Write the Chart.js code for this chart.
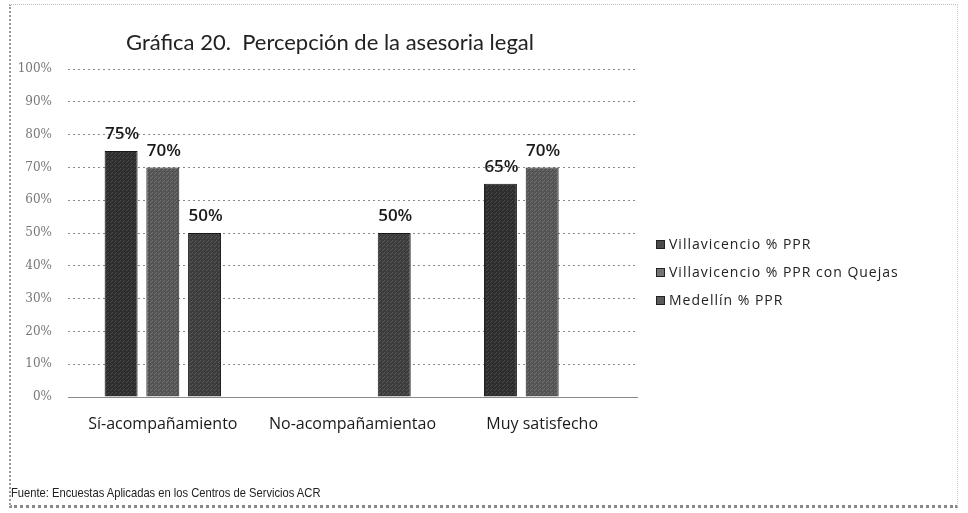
<!DOCTYPE html>
<html>
<head>
<meta charset="utf-8">
<script src="https://cdn.jsdelivr.net/npm/chart.js@4/dist/chart.umd.min.js"></script>
<style>
    body { margin: 0; background: #fff; }
    #wrap { position: relative; width: 968px; height: 513px; overflow: hidden; }
    #frame { position: absolute; left: 9px; top: 4px; width: 946px; height: 500px; border-left: 2px dotted #999; border-top: 1px dotted #bbb; border-right: 1px dotted #ccc; border-bottom: 3px dotted #888; }
    #title { position: absolute; left: 0; width: 660px; top: 28px; text-align: center; font-family: Lato, 'Open Sans', sans-serif; font-size: 22px; color: #222; }
    #source { position: absolute; left: 11px; top: 485px; font-family: 'Liberation Sans', sans-serif; font-size: 13px; color: #222; transform: scaleX(0.86); transform-origin: left top; white-space: nowrap; }
    #legend { position: absolute; left: 656px; top: 234px; font-family: 'Open Sans', sans-serif; font-size: 14px; letter-spacing: 1px; color: #222; }
    .legend-item { height: 28px; display: flex; align-items: flex-start; }
    .legend-box { width: 7px; height: 7px; margin: 6px 4px 0 0; border: 1px solid #222; }
    canvas { position: absolute; left: 0; top: 0; }
</style>
</head>
<body>
<div id="wrap">
    <div id="frame"></div>
    <canvas id="percepcionChart" width="968" height="513"></canvas>
    <div id="title">Gráfica 20.&nbsp; Percepción de la asesoria legal</div>
    <div id="legend"></div>
    <div id="source">Fuente: Encuestas Aplicadas en los Centros de Servicios ACR</div>
</div>
<script>
const categories = ['Sí-acompañamiento', 'No-acompañamientao', 'Muy satisfecho'];
const seriesNames = ['Villavicencio % PPR', 'Villavicencio % PPR con Quejas', 'Medellín % PPR'];
const villavicencioPPR = [75, null, 65];
const villavicencioQuejas = [70, null, 70];
const medellinPPR = [50, 50, null];
const yTicks = [0, 10, 20, 30, 40, 50, 60, 70, 80, 90, 100];

const seriesColors = ['#2e2e2e', '#545454', '#3c3c3c'];
const speckleColors = ['#4a4a4a', '#747474', '#5a5a5a'];

document.addEventListener('DOMContentLoaded', function() {
    buildLegend();
    initializeChart();
});

function buildLegend() {
    const legend = document.getElementById('legend');
    seriesNames.forEach((name, i) => {
        const item = document.createElement('div');
        item.className = 'legend-item';
        item.innerHTML = `<span class="legend-box" style="background:${speckleColors[i]}"></span><span>${name}</span>`;
        legend.appendChild(item);
    });
}

// small halftone tile so the bars look like the scanned print
function makeSpeckle(base, light) {
    const tile = document.createElement('canvas');
    tile.width = 4;
    tile.height = 4;
    const t = tile.getContext('2d');
    t.fillStyle = base;
    t.fillRect(0, 0, 4, 4);
    t.fillStyle = light;
    t.fillRect(0, 0, 1, 1);
    t.fillRect(2, 2, 1, 1);
    t.fillRect(3, 1, 1, 1);
    return t.createPattern(tile, 'repeat');
}

// draws the "75%" style labels on top of each bar
const barLabels = {
    id: 'barLabels',
    afterDatasetsDraw(chart) {
        const ctx = chart.ctx;
        ctx.save();
        ctx.font = '600 17px "Open Sans", sans-serif';
        ctx.fillStyle = '#1a1a1a';
        ctx.textAlign = 'center';
        ctx.textBaseline = 'bottom';
        chart.data.datasets.forEach((ds, i) => {
            const meta = chart.getDatasetMeta(i);
            meta.data.forEach((bar, j) => {
                if (ds.data[j] == null) return;
                ctx.fillText(ds.data[j] + '%', bar.x + 1, bar.y - 8);
            });
        });
        ctx.restore();
    }
};

function initializeChart() {
    const ctx = document.getElementById('percepcionChart').getContext('2d');
    const allSeries = [villavicencioPPR, villavicencioQuejas, medellinPPR];

    new Chart(ctx, {
        type: 'bar',
        data: {
            labels: categories,
            datasets: allSeries.map((values, i) => ({
                label: seriesNames[i],
                data: values,
                backgroundColor: makeSpeckle(seriesColors[i], speckleColors[i]),
                borderColor: '#161616',
                borderWidth: 1,
                barPercentage: 0.79,
                categoryPercentage: 0.66
            }))
        },
        options: {
            responsive: false,
            animation: false,
            layout: {
                padding: { left: 0, right: 331, top: 69, bottom: 66 }
            },
            plugins: {
                legend: { display: false },
                tooltip: { enabled: false }
            },
            scales: {
                y: {
                    min: 0,
                    max: 100,
                    afterBuildTicks: function(axis) {
                        axis.ticks = yTicks.map(v => ({ value: v }));
                    },
                    afterFit: function(axis) {
                        axis.width = 68;
                    },
                    grid: {
                        color: '#8a8a8a',
                        lineWidth: 1,
                        drawTicks: false
                    },
                    border: { display: false, dash: [2, 3] },
                    ticks: {
                        padding: 16,
                        color: '#777',
                        font: { family: 'DejaVu Serif, serif', size: 12 },
                        callback: function(value) {
                            return value + '%';
                        }
                    }
                },
                x: {
                    afterFit: function(axis) {
                        axis.height = 50;
                    },
                    grid: { display: false },
                    border: { color: '#8a8a8a', dash: [2, 3] },
                    ticks: {
                        padding: 10,
                        color: '#1a1a1a',
                        font: { family: '"Open Sans", sans-serif', size: 16 }
                    }
                }
            }
        },
        plugins: [barLabels]
    });
}
</script>
</body>
</html>
